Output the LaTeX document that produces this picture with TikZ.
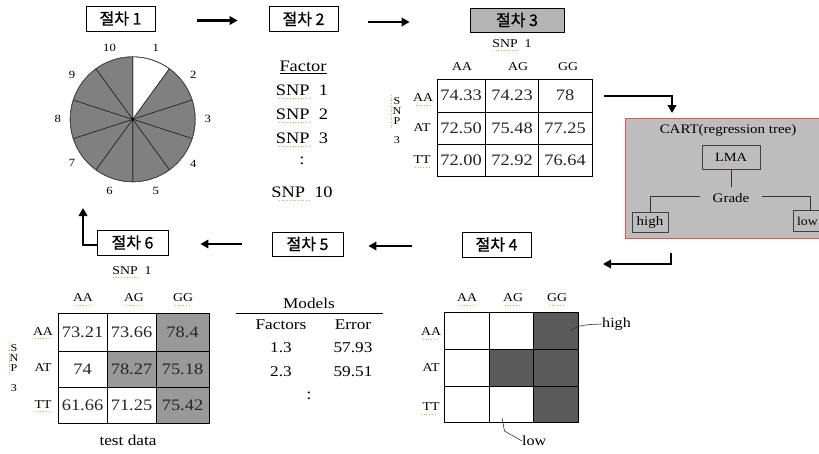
\documentclass[tikz,border=0pt]{standalone}
\usepackage{fontspec}
\setmainfont{Liberation Serif}[FakeStretch=1.15]
\newfontfamily\krfont{Noto Sans CJK KR}[FakeBold=0.7]
\usetikzlibrary{arrows.meta,calc}

\definecolor{piegray}{HTML}{808080}
\definecolor{boxgray}{HTML}{B4B4B4}
\definecolor{cartgray}{HTML}{BDBDBD}
\definecolor{cartred}{HTML}{F05050}
\definecolor{midshade}{HTML}{999999}
\definecolor{darkshade}{HTML}{5A5A5A}
\definecolor{spellcol}{HTML}{F0A050}

\newcommand{\fs}[1]{\fontsize{#1}{#1}\selectfont}

\tikzset{
  stepbox/.style={draw, line width=0.8pt, inner sep=0pt, minimum height=25pt,
    font=\krfont\fs{16}},
  flow/.style={line width=2.6pt, -{Triangle[length=8pt,width=8.5pt]}},
  lbl/.style={inner sep=0pt, font=\fs{12}},
  big/.style={inner sep=0pt, font=\fs{16}},
  val/.style={inner sep=0pt, font=\fs{16}, text=black!85},
  small/.style={inner sep=0pt, font=\fs{11}},
  vert/.style={inner sep=0pt, font=\fs{10.5}},
  cart/.style={inner sep=0pt, font=\fs{13}},
  grid/.style={line width=0.8pt},
  spell/.style={draw=spellcol, dotted, line width=0.7pt},
  leader/.style={line width=0.6pt, draw=black!80},
}

\begin{document}
\begin{tikzpicture}[x=1pt,y=-1pt]
\useasboundingbox (0,0) rectangle (819,453);
\fill[white] (0,0) rectangle (819,453);

% ---------- step boxes ----------
\node[stepbox, minimum width=69pt] (s1) at (120.5,18.5) {절차 1};
\node[stepbox, minimum width=69pt] (s2) at (303.5,19) {절차 2};
\node[stepbox, minimum width=94pt, fill=boxgray, minimum height=24pt] (s3) at (517,20) {절차 3};
\node[stepbox, minimum width=69pt] (s4) at (496.5,244.5) {절차 4};
\node[stepbox, minimum width=71pt, minimum height=24pt] (s5) at (307.5,244) {절차 5};
\node[stepbox, minimum width=71pt] (s6) at (132.5,242.5) {절차 6};

\draw[flow, shorten <=42pt, shorten >=31pt] ([yshift=-2pt]s1.east) -- ([yshift=-2pt]s1.east -| s2.west);
\draw[flow, shorten <=30pt, shorten >=60pt] ([yshift=-3pt]s2.east) -- ([yshift=-3pt]s2.east -| s3.west);
\draw[flow, shorten <=50pt, shorten >=25pt] ([yshift=-1.5pt]s4.west) -- ([yshift=-1.5pt]s4.west -| s5.east);
\draw[flow, shorten <=30pt, shorten >=32pt] (s5.west) -- (s5.west -| s6.east);
\coordinate (pieret) at (83,208);
\draw[flow] ([yshift=-2.5pt]s6.west) -| (pieret);

% ---------- pie of ten folds ----------
\coordinate (pc) at (132.7,119.3);
\foreach \k in {1,...,10}{
  \pgfmathsetmacro{\a}{-(90-36*(\k-1))}
  \pgfmathsetmacro{\b}{-(90-36*\k)}
  \ifnum\k=1 \def\pcol{white}\else \def\pcol{piegray}\fi
  \filldraw[fill=\pcol, draw=black!85, line width=0.6pt]
    (pc) -- ++(\a:62.5) arc[start angle=\a, end angle=\b, radius=62.5] -- cycle;
  \pgfmathsetmacro{\m}{-(72-36*(\k-1))}
  \node[small] (pl\k) at ($(pc)+(\m:75)$) {\k};
}
\draw[black!70, line width=0.6pt] (pc) circle[radius=62.5];
\fill (pc) circle[radius=1.2];

% ---------- factor list ----------
\node[big] (fac) at (303,66) {Factor};
\draw[line width=0.6pt] (280,73.5) -- (327,73.5);
\node[big] (f1) at (302,90) {SNP\ \ 1};
\node[big] (f2) at (302,114) {SNP\ \ 2};
\node[big] (f3) at (302,138) {SNP\ \ 3};
\node[big] (fd) at (302,161) {:};
\node[big] (f10) at (302,192) {SNP\ \ 10};
\foreach \yy in {98,122,146,200}{\draw[spell] (279,\yy) -- (311,\yy);}

% ---------- table of step 3 ----------
\node[lbl] (t3snp) at (512,44) {SNP\ \ 1};
\draw[spell] (493,50) -- (518,50);
\node[lbl] (t3ca) at (462,67) {AA};
\node[lbl] (t3cb) at (518,67) {AG};
\node[lbl] (t3cc) at (568,67) {GG};
\node[lbl] (t3ra) at (423,98) {AA};
\node[lbl] (t3rb) at (422,128) {AT};
\node[lbl] (t3rc) at (422,160) {TT};
\draw[spell] (416,105) -- (431,105);
\draw[spell] (415,167) -- (430,167);
\foreach \yy/\c in {101/S,111/N,121/P}{\node[vert] at (397,\yy) {\c};}
\node[vert] (t3v) at (397,140) {3};
\draw[spell] (391.5,95) -- (391.5,128);
\draw[grid] (437,79) rectangle (592,176);
\draw[grid] (485.5,79) -- (485.5,176) (538.5,79) -- (538.5,176)
            (437,112) -- (592,112) (437,144) -- (592,144);
\node[val] (t3a1) at (461,95.5) {74.33};
\node[val] (t3a2) at (512,95.5) {74.23};
\node[val] (t3a3) at (565,95.5) {78};
\node[val] (t3b1) at (461,128) {72.50};
\node[val] (t3b2) at (512,128) {75.48};
\node[val] (t3b3) at (565,128) {77.25};
\node[val] (t3c1) at (461,160) {72.00};
\node[val] (t3c2) at (512,160) {72.92};
\node[val] (t3c3) at (565,160) {76.64};
\coordinate (t3out) at (604,96);

% ---------- CART box ----------
\begin{scope}
\clip (0,0) rectangle (819,453);
\node[draw=cartred, fill=cartgray, line width=0.9pt, minimum width=205pt, minimum height=120pt, inner sep=0pt] (cartbox) at (727.5,178) {};
\node[cart] (carttitle) at (728,130) {CART(regression tree)};
\node[draw=black!75, line width=0.7pt, minimum width=58pt, minimum height=24pt, cart, font=\fs{12.5}] (lma) at (731,157) {LMA};
\draw[spell] (717,164) -- (746,164);
\node[cart] (grade) at (731,198) {Grade};
\node[draw=black!75, line width=0.7pt, minimum width=36pt, minimum height=20pt, cart] (hi) at (650,222) {high};
\draw[black!75, line width=0.7pt] (793,210) rectangle (830,231);
\node[cart, font=\fs{12}] (lo) at (807.5,221) {low};
\draw[leader, line width=0.8pt] (lma.south) -- (731,187);
\draw[leader, line width=0.8pt] (700,196) -| (hi.north);
\draw[leader, line width=0.8pt] (762,196) -| (810,210);
\end{scope}
\coordinate (cartin) at (672,113);
\draw[flow] (t3out) -| (cartin);
\coordinate (cartout) at (671,253);
\coordinate (retend) at (603,264);
\draw[flow] (cartout) |- (retend);

% ---------- step 4 grid ----------
\node[lbl] (t4ca) at (467,298) {AA};
\node[lbl] (t4cb) at (513,298) {AG};
\node[lbl] (t4cc) at (557,298) {GG};
\foreach \xx in {467,513,557}{\draw[spell] (\xx-8,305) -- (\xx+8,305);}
\node[lbl] (t4ra) at (431,332) {AA};
\node[lbl] (t4rb) at (431,368) {AT};
\node[lbl] (t4rc) at (431,407) {TT};
\draw[spell] (423,339) -- (439,339);
\draw[spell] (421,414) -- (437,414);
\fill[darkshade] (533,312) rectangle (578,422);
\fill[darkshade] (489,349) rectangle (533,386);
\draw[grid] (444,312) rectangle (578,422);
\draw[grid] (489,312) -- (489,422) (533,312) -- (533,422)
            (444,349) -- (578,349) (444,386) -- (578,386);
\node[lbl, font=\fs{14}, anchor=west] (t4hi) at (602,324) {high};
\node[lbl, font=\fs{14}, anchor=west] (t4lo) at (522,441) {low};
\draw[leader] (570,331) .. controls (578,326) .. (590,324.5) -- (t4hi.west);
\draw[leader] (502,418) -- (504.5,431) -- (t4lo.west);

% ---------- models list ----------
\node[big, font=\fs{15}] (mod) at (309,303) {Models};
\draw[line width=0.8pt] (236,313) -- (383,313);
\node[big, font=\fs{15}] (mf) at (281,325) {Factors};
\node[big, font=\fs{15}] (me) at (353,325) {Error};
\node[big, font=\fs{15}] (m1) at (281,348) {1.3};
\node[big, font=\fs{15}] (m1e) at (353,348) {57.93};
\node[big, font=\fs{15}] (m2) at (281,372) {2.3};
\node[big, font=\fs{15}] (m2e) at (353,372) {59.51};
\node[big] (md) at (309,396) {:};

% ---------- test data table of step 6 ----------
\node[lbl] (t6snp) at (132,271) {SNP\ \ 1};
\draw[spell] (113,277) -- (138,277);
\node[lbl] (t6ca) at (83,298) {AA};
\node[lbl] (t6cb) at (134,298) {AG};
\node[lbl] (t6cc) at (183,298) {GG};
\foreach \xx in {83,134,183}{\draw[spell] (\xx-8,305) -- (\xx+8,305);}
\node[lbl] (t6ra) at (43,332) {AA};
\node[lbl] (t6rb) at (43,368) {AT};
\node[lbl] (t6rc) at (43,405) {TT};
\draw[spell] (35,338) -- (51,338);
\draw[spell] (35,411) -- (51,411);
\foreach \yy/\c in {348/S,358/N,368/P}{\node[vert] at (14,\yy) {\c};}
\node[vert] (t6v) at (14,388) {3};
\draw[spell] (9,342) -- (9,374);
\fill[midshade] (156,313) rectangle (209,423);
\fill[midshade] (107,351) rectangle (156,387);
\draw[grid] (58,313) rectangle (209,423);
\draw[grid] (107,313) -- (107,423) (156,313) -- (156,423)
            (58,351) -- (209,351) (58,387) -- (209,387);
\node[val] (t6a1) at (82.5,332) {73.21};
\node[val] (t6a2) at (131.5,332) {73.66};
\node[val] (t6a3) at (182.5,332) {78.4};
\node[val] (t6b1) at (82.5,369) {74};
\node[val] (t6b2) at (131.5,369) {78.27};
\node[val] (t6b3) at (182.5,369) {75.18};
\node[val] (t6c1) at (82.5,405) {61.66};
\node[val] (t6c2) at (131.5,405) {71.25};
\node[val] (t6c3) at (182.5,405) {75.42};
\node[big, font=\fs{15}] (test) at (128,440) {test data};
\end{tikzpicture}
\end{document}
